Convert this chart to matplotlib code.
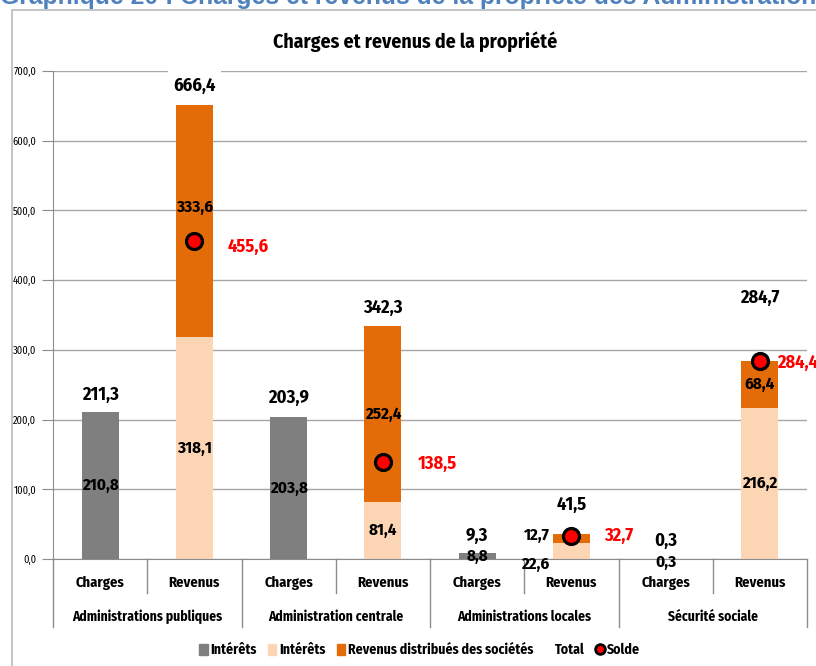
import matplotlib
matplotlib.use('Agg')
import matplotlib.pyplot as plt
from matplotlib.patches import Patch, Rectangle
from matplotlib.lines import Line2D
from matplotlib.ticker import FuncFormatter

# donnees (milliards)
groups = ['Administrations publiques', 'Administration centrale',
          'Administrations locales', 'Sécurité sociale']
kinds = ['Charges', 'Revenus']

charges_interets = [210.8, 203.8, 8.8, 0.3]
charges_total = [211.3, 203.9, 9.3, 0.3]
revenus_interets = [318.1, 81.4, 22.6, 216.2]
revenus_distribues = [333.6, 252.4, 12.7, 68.4]
revenus_total = [666.4, 342.3, 41.5, 284.7]
solde = [455.6, 138.5, 32.7, 284.4]

GRAY = '#7F7F7F'
PEACH = '#FCD5B5'
ORANGE = '#E36C09'
AXIS = '#8C8C8C'
NARROW = ['Fira Sans Condensed', 'Carlito', 'DejaVu Sans']

plt.rcParams['font.family'] = NARROW


def fr(v, pos=None):
    return f'{v:.1f}'.replace('.', ',')


fig = plt.figure(figsize=(8.16, 6.66), dpi=100)
ax = fig.add_axes([53 / 816, 107 / 666, (807 - 53) / 816, 488 / 666])

xc = [2 * i for i in range(len(groups))]
xr = [2 * i + 1 for i in range(len(groups))]
w = 0.39

ax.bar(xc, charges_interets, w, color=GRAY, zorder=2)
ax.bar(xr, revenus_interets, w, color=PEACH, zorder=2)
ax.bar(xr, revenus_distribues, w, bottom=revenus_interets, color=ORANGE, zorder=2)
ax.plot(xr, solde, 'o', ms=11.5, mfc='red', mec='black', mew=2.3, zorder=4)

# decalages manuels des etiquettes (pixels)
ch_dy = [0, 0, 0, -3]
ri_dx = [0, 0, -36, 0]
ri_dy = [0, 0, -13.5, 0]
rd_dx = [0, 0, -34.5, 0]
rd_dy = [14, 0, 3, 0]
tot_c_dy = [17, 19, 16.5, 18]
tot_r_dy = [9, 13, 25, 63]
sol_dx = [33, 35, 33, 17]
sol_dy = [-5, -1, 0, -2]

seg = dict(fontsize=12.2, fontweight='bold', ha='center', va='center',
           textcoords='offset pixels', zorder=6)
box = dict(boxstyle='square,pad=0.3', fc='white', ec='none')
tot = dict(fontsize=13.2, fontweight='bold', ha='center', va='center',
           textcoords='offset pixels', bbox=box, zorder=5)

for i in range(len(groups)):
    ax.annotate(fr(charges_interets[i]), (xc[i], charges_interets[i] / 2),
                xytext=(0, ch_dy[i]), **seg)
    ax.annotate(fr(revenus_interets[i]), (xr[i], revenus_interets[i] / 2),
                xytext=(ri_dx[i], ri_dy[i]), **seg)
    ax.annotate(fr(revenus_distribues[i]),
                (xr[i], revenus_interets[i] + revenus_distribues[i] / 2),
                xytext=(rd_dx[i], rd_dy[i]), **seg)
    ax.annotate(fr(charges_total[i]), (xc[i], charges_total[i]),
                xytext=(0, tot_c_dy[i]), **tot)
    ax.annotate(fr(revenus_total[i]), (xr[i], revenus_total[i]),
                xytext=(0, tot_r_dy[i]), **tot)
    ax.annotate(fr(solde[i]), (xr[i], solde[i]), xytext=(sol_dx[i], sol_dy[i]),
                textcoords='offset pixels', ha='left', va='center',
                fontsize=13.2, fontweight='bold', color='red', zorder=6)

ax.set_xlim(-0.5, 2 * len(groups) - 0.5)
ax.set_ylim(0, 700)
ax.set_yticks(range(0, 701, 100))
ax.yaxis.set_major_formatter(FuncFormatter(fr))
ax.set_xticks([])
ax.yaxis.grid(True, color='#A6A6A6', lw=1)
ax.set_axisbelow(True)
for s in ['top', 'right']:
    ax.spines[s].set_visible(False)
for s in ['left', 'bottom']:
    ax.spines[s].set_color(AXIS)
ax.tick_params(axis='y', direction='out', length=8, color=AXIS, labelsize=7.5, pad=4)

# axe des categories a deux niveaux
tr = ax.get_xaxis_transform()
for i in range(len(groups)):
    ax.text(xc[i], -0.049, kinds[0], transform=tr, ha='center', va='center',
            fontsize=10.5, fontweight='bold')
    ax.text(xr[i], -0.049, kinds[1], transform=tr, ha='center', va='center',
            fontsize=10.5, fontweight='bold')
    ax.text(xc[i] + 0.5, -0.119, groups[i], transform=tr, ha='center', va='center',
            fontsize=9.8, fontweight='bold')
for k in range(2 * len(groups) + 1):
    depth = -0.139 if k % 2 == 0 else -0.0697
    ax.plot([k - 0.5, k - 0.5], [0, depth], transform=tr, color=AXIS, lw=1,
            clip_on=False)

fig.text(415 / 816, 1 - 42 / 666, 'Charges et revenus de la propriété',
         ha='center', va='center', fontsize=14.2, fontweight='bold')

handles = [Patch(color=GRAY), Patch(color=PEACH), Patch(color=ORANGE),
           Line2D([], [], ls='none'),
           Line2D([], [], ls='none', marker='o', ms=7, mfc='red', mec='black', mew=2)]
labels = ['Intérêts', 'Intérêts', 'Revenus distribués des sociétés', 'Total', 'Solde']
fig.legend(handles, labels, loc='center', bbox_to_anchor=(420 / 816, 1 - 650 / 666),
           ncol=5, frameon=False, handlelength=0.6, handleheight=0.85,
           handletextpad=0.2, columnspacing=0.8,
           prop={'weight': 'bold', 'size': 10, 'family': NARROW})

# cadre du graphique et titre du document (coupe en haut)
fig.add_artist(Rectangle((12 / 816, -0.05), 1.1, 1 - 10 / 666 + 0.05,
                         transform=fig.transFigure, fill=False, ec='#BFBFBF', lw=1.3))
fig.text(0, 1 - 4 / 666,
         'Graphique 20 : Charges et revenus de la propriété des Administrations publiques',
         color='#4F81BD', fontsize=17.8, fontweight='bold', family='Liberation Sans',
         ha='left', va='baseline')

fig.savefig('out.png', dpi=100)
